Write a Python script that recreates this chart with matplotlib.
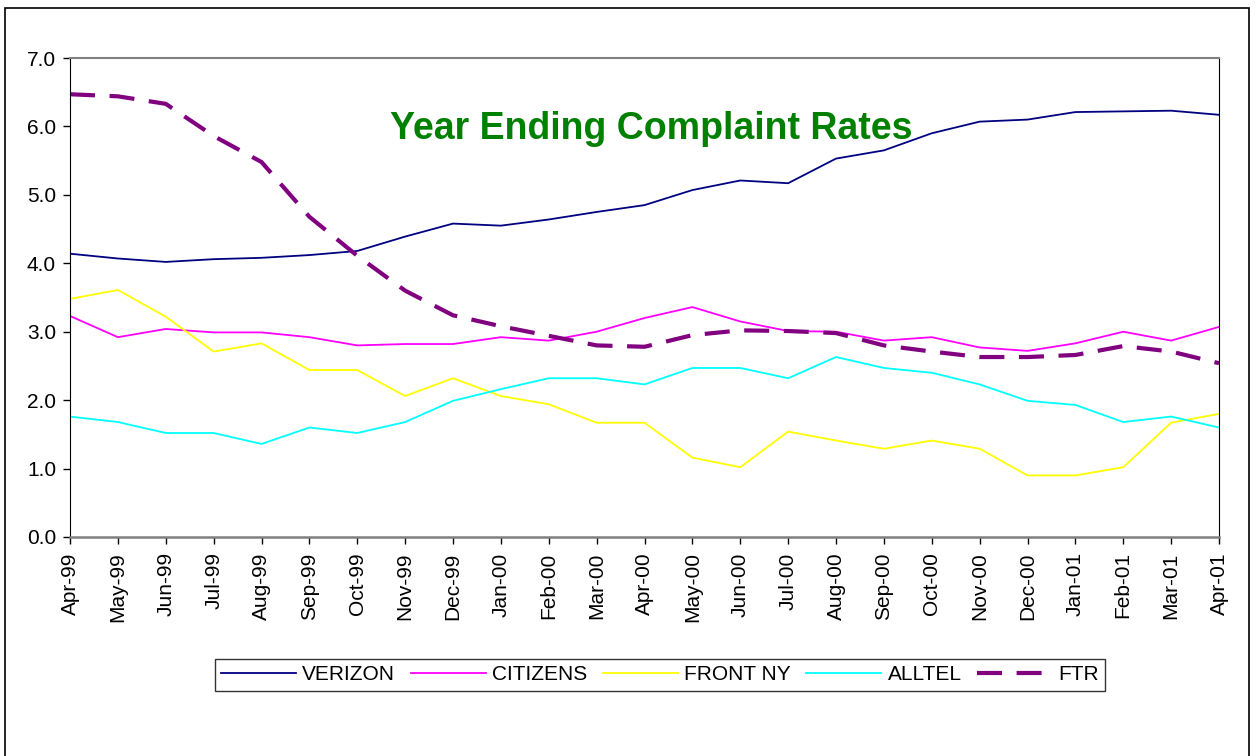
import matplotlib
matplotlib.use('Agg')
import matplotlib.pyplot as plt
from matplotlib.patches import Rectangle

plt.rcParams['font.family'] = ['Liberation Sans', 'DejaVu Sans']

# Data
months = ['Apr-99', 'May-99', 'Jun-99', 'Jul-99', 'Aug-99', 'Sep-99', 'Oct-99',
          'Nov-99', 'Dec-99', 'Jan-00', 'Feb-00', 'Mar-00', 'Apr-00', 'May-00',
          'Jun-00', 'Jul-00', 'Aug-00', 'Sep-00', 'Oct-00', 'Nov-00', 'Dec-00',
          'Jan-01', 'Feb-01', 'Mar-01', 'Apr-01']
verizon = [4.14, 4.07, 4.02, 4.06, 4.08, 4.12, 4.18, 4.39, 4.58, 4.55, 4.64, 4.75,
           4.85, 5.07, 5.21, 5.17, 5.53, 5.65, 5.90, 6.07, 6.10, 6.21, 6.22, 6.23, 6.17]
citizens = [3.23, 2.92, 3.04, 2.99, 2.99, 2.92, 2.80, 2.82, 2.82, 2.92, 2.87, 3.00,
            3.20, 3.36, 3.15, 3.01, 3.00, 2.87, 2.92, 2.77, 2.72, 2.83, 3.00, 2.87, 3.07]
front_ny = [3.48, 3.61, 3.22, 2.71, 2.83, 2.44, 2.44, 2.06, 2.32, 2.06, 1.94, 1.67,
            1.67, 1.16, 1.02, 1.54, 1.41, 1.29, 1.41, 1.29, 0.90, 0.90, 1.02, 1.67, 1.80]
alltel = [1.76, 1.68, 1.52, 1.52, 1.36, 1.60, 1.52, 1.68, 1.99, 2.16, 2.32, 2.32,
          2.23, 2.47, 2.47, 2.32, 2.63, 2.47, 2.40, 2.23, 1.99, 1.93, 1.68, 1.76, 1.60]
ftr = [6.47, 6.44, 6.33, 5.86, 5.48, 4.68, 4.11, 3.60, 3.24, 3.08, 2.94, 2.80,
       2.78, 2.95, 3.02, 3.01, 2.98, 2.80, 2.71, 2.63, 2.63, 2.66, 2.79, 2.71, 2.54]
yticks = [0.0, 1.0, 2.0, 3.0, 4.0, 5.0, 6.0, 7.0]

W, H = 1256, 756
fig = plt.figure(figsize=(W / 100, H / 100), dpi=100)
fig.patch.set_facecolor('white')

# outer chart frame
fig.patches.append(Rectangle((5 / W, -0.02), (1249 - 5) / W, (H - 8) / H + 0.02,
                             transform=fig.transFigure, fill=False,
                             edgecolor='black', lw=1.2, clip_on=False))

ax = fig.add_axes([70 / W, 1 - 537 / H, (1219 - 70) / W, (537 - 58) / H])

x = list(range(len(months)))
ax.plot(x, verizon, color='#000080', lw=1.3, label='VERIZON')
ax.plot(x, citizens, color='#FF00FF', lw=1.3, label='CITIZENS')
ax.plot(x, front_ny, color='#FFFF00', lw=1.3, label='FRONT NY')
ax.plot(x, alltel, color='#00FFFF', lw=1.3, label='ALLTEL')
ax.plot(x, ftr, color='#800080', lw=3.0, dashes=(6, 3.5),
        dash_capstyle='butt', label='FTR')

ax.set_xlim(0, len(months) - 1)
ax.set_ylim(0, 7)
ax.set_xticks(x)
ax.set_xticklabels(months, rotation=90, fontsize=15)
ax.set_yticks(yticks)
ax.set_yticklabels(['{:.1f}'.format(v) for v in yticks], fontsize=15)
ax.tick_params(axis='both', direction='out', length=5, width=1, color='black')
ax.tick_params(axis='x', pad=6)
ax.tick_params(axis='y', pad=5)

ax.spines['left'].set_color('black')
ax.spines['right'].set_color('black')
ax.spines['top'].set_color('#808080')
ax.spines['bottom'].set_color('#808080')
ax.spines['top'].set_linewidth(1.5)
ax.spines['bottom'].set_linewidth(1.8)

fig.text(651 / W, 1 - 129 / H, 'Year Ending Complaint Rates', color='#008000',
         fontsize=27, fontweight='bold', ha='center', va='center')

handles, labels = ax.get_legend_handles_labels()
leg = fig.legend(handles, labels, loc='center', ncol=5,
                 bbox_to_anchor=(660 / W, 1 - 675 / H), fontsize=15,
                 frameon=True, fancybox=False, edgecolor='black',
                 handlelength=3.6, handletextpad=0.3, columnspacing=0.75,
                 borderpad=0.3, borderaxespad=0)
leg.get_frame().set_linewidth(1.0)

fig.savefig('out.png', dpi=100)
